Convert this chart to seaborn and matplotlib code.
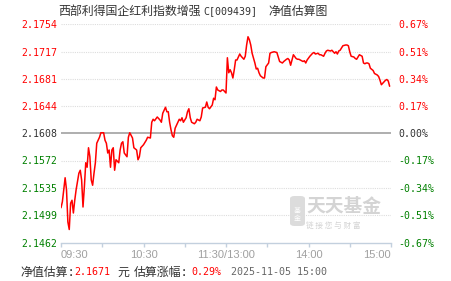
import matplotlib
matplotlib.use("Agg")
import matplotlib.pyplot as plt
import seaborn as sns
import pandas as pd
from matplotlib.patches import FancyBboxPatch

# ---------------- data ----------------
title_name = "西部利得国企红利指数增强"
title_code = "C[009439]"
title_tail = "净值估算图"

minutes = [0, 1, 3, 4, 5, 6, 7, 8, 9, 10, 11, 13, 14, 15, 16, 17, 18, 19, 20, 21,
           22, 23, 24, 25, 26, 28, 29, 31, 32, 33, 34, 35, 36, 37, 38, 39, 40, 42, 43, 44,
           45, 46, 48, 49, 50, 52, 53, 55, 56, 57, 58, 60, 62, 63, 65, 66, 67, 68, 70, 72,
           73, 74, 76, 77, 78, 79, 80, 81, 82, 83, 85, 86, 87, 88, 89, 91, 92, 93, 94, 95,
           97, 98, 99, 101, 102, 103, 105, 106, 107, 108, 110, 111, 112, 113, 114, 116, 117, 118, 119, 120,
           121, 122, 123, 124, 125, 126, 127, 128, 129, 130, 131, 133, 134, 135, 136, 137, 138, 139, 141, 142,
           143, 144, 145, 147, 148, 149, 151, 152, 153, 155, 157, 158, 159, 161, 162, 164, 165, 166, 167, 168,
           169, 171, 172, 173, 175, 176, 177, 178, 179, 181, 182, 183, 184, 185, 187, 188, 189, 191, 192, 193,
           194, 196, 197, 199, 200, 201, 202, 203, 204, 205, 207, 208, 209, 210, 211, 213, 214, 215, 216, 217,
           219, 220, 221, 222, 223, 224, 225, 227, 228, 230, 231, 232, 233, 234, 236, 237, 238, 239]

nav = [2.1509, 2.1517, 2.1549, 2.1533, 2.1490, 2.1480, 2.1515, 2.1519, 2.1502, 2.1519,
       2.1533, 2.1555, 2.1559, 2.1546, 2.1510, 2.1537, 2.1569, 2.1563, 2.1589, 2.1577,
       2.1546, 2.1539, 2.1555, 2.1569, 2.1595, 2.1603, 2.1609, 2.1609, 2.1599, 2.1595,
       2.1582, 2.1586, 2.1563, 2.1586, 2.1589, 2.1559, 2.1573, 2.1569, 2.1586, 2.1595,
       2.1597, 2.1582, 2.1577, 2.1603, 2.1609, 2.1602, 2.1589, 2.1586, 2.1573, 2.1577,
       2.1589, 2.1593, 2.1599, 2.1603, 2.1602, 2.1623, 2.1627, 2.1625, 2.1630, 2.1626,
       2.1623, 2.1635, 2.1643, 2.1637, 2.1637, 2.1623, 2.1613, 2.1605, 2.1603, 2.1615,
       2.1623, 2.1627, 2.1625, 2.1629, 2.1623, 2.1629, 2.1637, 2.1641, 2.1629, 2.1623,
       2.1621, 2.1623, 2.1627, 2.1625, 2.1630, 2.1642, 2.1643, 2.1650, 2.1643, 2.1641,
       2.1646, 2.1655, 2.1653, 2.1670, 2.1666, 2.1664, 2.1666, 2.1666, 2.1664, 2.1662,
       2.1709, 2.1689, 2.1693, 2.1689, 2.1682, 2.1693, 2.1706, 2.1706, 2.1710, 2.1714,
       2.1711, 2.1707, 2.1711, 2.1726, 2.1737, 2.1733, 2.1726, 2.1715, 2.1702, 2.1694,
       2.1695, 2.1689, 2.1685, 2.1682, 2.1682, 2.1697, 2.1702, 2.1715, 2.1716, 2.1717,
       2.1716, 2.1710, 2.1704, 2.1702, 2.1704, 2.1707, 2.1708, 2.1706, 2.1699, 2.1706,
       2.1713, 2.1708, 2.1707, 2.1707, 2.1705, 2.1704, 2.1705, 2.1702, 2.1706, 2.1711,
       2.1713, 2.1715, 2.1716, 2.1714, 2.1715, 2.1713, 2.1713, 2.1711, 2.1715, 2.1718,
       2.1719, 2.1718, 2.1719, 2.1715, 2.1717, 2.1714, 2.1718, 2.1719, 2.1722, 2.1725,
       2.1726, 2.1726, 2.1725, 2.1717, 2.1711, 2.1710, 2.1708, 2.1707, 2.1710, 2.1713,
       2.1711, 2.1702, 2.1701, 2.1702, 2.1702, 2.1701, 2.1695, 2.1692, 2.1688, 2.1686,
       2.1684, 2.1679, 2.1673, 2.1675, 2.1679, 2.1680, 2.1678, 2.1671]

y_labels = ["2.1754", "2.1717", "2.1681", "2.1644", "2.1608",
            "2.1572", "2.1535", "2.1499", "2.1462"]
pct_labels = ["0.67%", "0.51%", "0.34%", "0.17%", "0.00%",
              "-0.17%", "-0.34%", "-0.51%", "-0.67%"]
base_nav = 2.1608

x_tick_pos = [0, 30, 60, 90, 120, 150, 180, 210, 240]
x_tick_labels = ["09:30", "", "10:30", "", "11:30/13:00", "", "14:00", "", "15:00"]

est_label = "净值估算:"
est_value = "2.1671"
est_unit = "元"
chg_label = "估算涨幅:"
chg_value = "0.29%"
stamp = "2025-11-05 15:00"

# ---------------- style ----------------
sns.set_theme(style="white")
plt.rcParams["font.family"] = ["DejaVu Sans Mono", "Noto Sans CJK SC"]

W, H = 451, 281
fig = plt.figure(figsize=(W / 100, H / 100), dpi=100)
fig.patch.set_facecolor("white")


def px(x, y):
    return x / W, 1 - y / H


ax = fig.add_axes([61 / W, 1 - 243 / H, 330 / W, 219 / H])
ax.set_facecolor("white")

df = pd.DataFrame({"minute": minutes, "nav": nav})

yvals = [float(v) for v in y_labels]
for v in yvals[:-1]:
    if abs(v - base_nav) < 1e-6:
        continue
    ax.axhline(v, color="#dddddd", lw=0.8, ls=(0, (1, 1)), zorder=1)
ax.axhline(base_nav, color="#999999", lw=1.1, zorder=2)

sns.lineplot(data=df, x="minute", y="nav", ax=ax, color="#ff0000",
             linewidth=1.1, zorder=3, sort=False)

ax.set_xlim(0, 240)
ax.set_ylim(yvals[-1], yvals[0])
ax.set_xlabel("")
ax.set_ylabel("")

for s in ["left", "right", "top"]:
    ax.spines[s].set_visible(False)
ax.spines["bottom"].set_color("#c3d0de")
ax.spines["bottom"].set_linewidth(1.0)

ax.set_yticks(yvals)
ax.set_yticklabels(y_labels, fontsize=7.1, family="DejaVu Sans Mono")
ax.tick_params(axis="y", length=0, pad=3, left=False)


def lab_color(i):
    if i < 4:
        return "#ff0000"
    if i == 4:
        return "#333333"
    return "#008000"


for i, t in enumerate(ax.get_yticklabels()):
    t.set_color(lab_color(i))

ax.set_xticks(x_tick_pos)
ax.set_xticklabels(x_tick_labels, fontsize=8, family="Liberation Sans", color="#a0a0a0")
ax.tick_params(axis="x", bottom=True, length=3, width=1, color="#c3d0de", pad=2)
xt = ax.get_xticklabels()
xt[0].set_ha("left")
xt[-1].set_ha("right")

ax2 = ax.twinx()
ax2.set_ylim(ax.get_ylim())
ax2.set_yticks(yvals)
ax2.set_yticklabels(pct_labels, fontsize=7.1, family="DejaVu Sans Mono")
ax2.tick_params(axis="y", length=0, pad=5, right=False)
for s in ["left", "right", "top", "bottom"]:
    ax2.spines[s].set_visible(False)
for i, t in enumerate(ax2.get_yticklabels()):
    t.set_color(lab_color(i))
ax2.grid(False)
ax.grid(False)

# ---------------- watermark ----------------
box = FancyBboxPatch(px(290, 226), 15 / W, 30 / H,
                     boxstyle="round,pad=0,rounding_size=0.01",
                     transform=fig.transFigure, facecolor="#dcdcdc",
                     edgecolor="none", zorder=0)
fig.patches.append(box)
fig.text(*px(297.5, 215), "基\n金", color="white", fontsize=5, ha="center",
         va="center", family="Noto Sans CJK SC", linespacing=1.0, zorder=1)
fig.text(*px(306, 206), "天天基金", color="#d4d4d4", fontsize=13.5,
         ha="left", va="center", family="Noto Sans CJK SC", fontweight="bold")
fig.text(*px(306, 226), "链 接 您 与 财 富", color="#d4d4d4", fontsize=5.5,
         ha="left", va="center", family="Noto Sans CJK SC")

# ---------------- title ----------------
cjk = "Noto Sans CJK SC"
fig.text(*px(58, 11), title_name, fontsize=8.6, color="#333333",
         ha="left", va="center", family=cjk)
fig.text(*px(203, 11), title_code, fontsize=7.2, color="#333333",
         ha="left", va="center", family=["DejaVu Sans Mono", cjk])
fig.text(*px(268, 11), title_tail, fontsize=8.6, color="#333333",
         ha="left", va="center", family=cjk)

# ---------------- bottom line ----------------
yb = 272
fig.text(*px(20, yb), est_label, fontsize=8.6, color="#333333",
         ha="left", va="center", family=["DejaVu Sans Mono", cjk])
fig.text(*px(74, yb), est_value, fontsize=7.2, color="#ff0000",
         ha="left", va="center", family="DejaVu Sans Mono")
fig.text(*px(117, yb), est_unit, fontsize=8.6, color="#333333",
         ha="left", va="center", family=cjk)
fig.text(*px(134, yb), chg_label, fontsize=8.6, color="#333333",
         ha="left", va="center", family=["DejaVu Sans Mono", cjk])
fig.text(*px(191, yb), chg_value, fontsize=7.2, color="#ff0000",
         ha="left", va="center", family="DejaVu Sans Mono")
fig.text(*px(231, yb), stamp, fontsize=7.2, color="#666666",
         ha="left", va="center", family="DejaVu Sans Mono")

fig.savefig("out.png", dpi=100, facecolor="white")
